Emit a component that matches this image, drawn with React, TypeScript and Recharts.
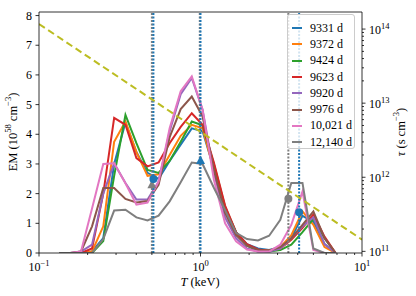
import React from "react";
import {
  ComposedChart,
  Line,
  Scatter,
  XAxis,
  YAxis,
  ReferenceLine,
} from "recharts";

// temperature grid (keV)
const T_KEV = [
  0.133, 0.156, 0.182, 0.213, 0.25, 0.292, 0.343, 0.401, 0.47, 0.55, 0.644, 0.754, 0.883,
  1.03, 1.21, 1.42, 1.66, 1.94, 2.27, 2.66, 3.12, 3.65, 4.28, 5.0, 5.86, 6.86,
];

// EM (10^58 cm^-3) per epoch
const EM_9331 = [0, 0, 0, 0.05, 0.5, 3.0, 4.4, 3.4, 2.7, 2.5, 3.1, 3.65, 4.2, 4.1, 2.85, 1.5, 0.7, 0.3, 0.15, 0.1, 0.2, 0.5, 1.25, 1.05, 0.3, 0];
const EM_9372 = [0, 0, 0, 0.05, 0.9, 3.75, 4.43, 3.4, 2.6, 2.65, 3.3, 3.95, 4.32, 4.2, 2.8, 1.4, 0.65, 0.25, 0.1, 0.08, 0.2, 0.6, 1.4, 0.95, 0.2, 0];
const EM_9424 = [0, 0, 0, 0, 0.4, 2.6, 4.65, 3.7, 2.8, 2.7, 3.1, 3.75, 4.43, 4.3, 3.0, 1.55, 0.7, 0.25, 0.08, 0.05, 0.1, 0.28, 0.7, 1.15, 0.5, 0];
const EM_9623 = [0, 0, 0, 0.15, 2.0, 4.55, 4.32, 3.2, 2.92, 3.05, 3.7, 4.25, 4.71, 4.32, 3.05, 1.6, 0.7, 0.3, 0.12, 0.08, 0.15, 0.45, 0.85, 1.3, 0.55, 0];
const EM_9920 = [0, 0, 0.05, 0.28, 2.0, 3.02, 2.36, 1.8, 1.8, 2.4, 4.1, 5.35, 5.9, 4.83, 2.7, 1.2, 0.5, 0.15, 0.05, 0.05, 0.15, 0.5, 0.9, 1.2, 0.3, 0];
const EM_9976 = [0, 0, 0.05, 0.9, 2.19, 2.19, 1.82, 1.7, 1.75, 2.3, 3.9, 4.85, 5.27, 4.6, 2.8, 1.35, 0.6, 0.25, 0.1, 0.08, 0.2, 0.5, 0.95, 1.4, 0.5, 0];
const EM_10021 = [0, 0, 0.05, 1.5, 3.0, 3.02, 2.35, 1.63, 1.7, 2.4, 4.2, 5.45, 5.95, 4.83, 2.47, 1.0, 0.39, 0.12, 0.05, 0.05, 0.28, 0.95, 2.07, 0.1, 0, 0];
const EM_12140 = [0, 0, 0, 0, 0.47, 1.43, 1.46, 1.2, 1.1, 1.26, 1.74, 2.38, 3.05, 3.0, 2.2, 1.45, 0.68, 0.47, 0.42, 0.58, 1.12, 2.36, 2.36, 0.15, 0, 0];

const SERIES = [
  { name: "9331 d", color: "#1f77b4", values: EM_9331 },
  { name: "9372 d", color: "#ff7f0e", values: EM_9372 },
  { name: "9424 d", color: "#2ca02c", values: EM_9424 },
  { name: "9623 d", color: "#d62728", values: EM_9623 },
  { name: "9920 d", color: "#9467bd", values: EM_9920 },
  { name: "9976 d", color: "#8c564b", values: EM_9976 },
  { name: "10,021 d", color: "#e377c2", values: EM_10021 },
  { name: "12,140 d", color: "#7f7f7f", values: EM_12140 },
];

// ionisation age line (right axis)
const TAU_T = [0.1, 10];
const TAU_VALUES = [1.17e14, 1.44e11];

// vertical markers
const GRAY_LINES = [0.5, 0.99, 3.5];
const BLUE_LINES = [0.511, 1.0, 4.08];
const BLUE_CIRCLES = [
  { t: 0.511, em: 2.49 },
  { t: 4.08, em: 1.37 },
];
const GRAY_CIRCLES = [{ t: 3.5, em: 1.83 }];
const BLUE_TRIANGLES = [{ t: 1.0, em: 3.12 }];
const GRAY_TRIANGLES = [{ t: 0.5, em: 2.3 }];

const X_TICKS = [0.1, 0.2, 0.3, 0.4, 0.5, 0.6, 0.7, 0.8, 0.9, 1, 2, 3, 4, 5, 6, 7, 8, 9, 10];
const EM_TICKS = [0, 1, 2, 3, 4, 5, 6, 7, 8];
const TAU_TICKS = [
  1e11, 2e11, 3e11, 4e11, 5e11, 6e11, 7e11, 8e11, 9e11,
  1e12, 2e12, 3e12, 4e12, 5e12, 6e12, 7e12, 8e12, 9e12,
  1e13, 2e13, 3e13, 4e13, 5e13, 6e13, 7e13, 8e13, 9e13, 1e14,
];

const rows = T_KEV.map((t, i) => {
  const row: Record<string, number> = { t };
  SERIES.forEach((s, j) => {
    row[`s${j}`] = s.values[i];
  });
  return row;
});
const tauRows = TAU_T.map((t, i) => ({ t, tau: TAU_VALUES[i] }));

const FONT = '"Liberation Serif", "DejaVu Serif", serif';
const PLOT_LEFT = 39;
const PLOT_RIGHT = 362;
const PLOT_BOTTOM = 253;

function decade(v: number) {
  const e = Math.log10(v);
  return Math.abs(e - Math.round(e)) < 1e-6 ? Math.round(e) : null;
}

function expText(e: number) {
  return e < 0 ? `\u2212${-e}` : `${e}`;
}

function XTick(props: any) {
  const { x, payload } = props;
  const e = decade(payload.value);
  const major = e !== null;
  return (
    <g>
      <line x1={x} x2={x} y1={PLOT_BOTTOM} y2={PLOT_BOTTOM + (major ? 3.5 : 2)} stroke="#000" strokeWidth={0.8} />
      {major && (
        <text x={x} y={PLOT_BOTTOM + 18} textAnchor="middle" fontFamily={FONT} fontSize={12} fill="#000">
          10
          <tspan dy={-5} fontSize={8.5}>
            {expText(e as number)}
          </tspan>
        </text>
      )}
    </g>
  );
}

function EmTick(props: any) {
  const { y, payload } = props;
  return (
    <g>
      <line x1={PLOT_LEFT - 3.5} x2={PLOT_LEFT} y1={y} y2={y} stroke="#000" strokeWidth={0.8} />
      <text x={PLOT_LEFT - 7} y={y + 4} textAnchor="end" fontFamily={FONT} fontSize={12} fill="#000">
        {payload.value}
      </text>
    </g>
  );
}

function TauTick(props: any) {
  const { y, payload } = props;
  const e = decade(payload.value);
  const major = e !== null;
  return (
    <g>
      <line x1={PLOT_RIGHT} x2={PLOT_RIGHT + (major ? 3.5 : 2)} y1={y} y2={y} stroke="#000" strokeWidth={0.8} />
      {major && (
        <text x={PLOT_RIGHT + 7} y={y + 5} textAnchor="start" fontFamily={FONT} fontSize={12} fill="#000">
          10
          <tspan dy={-5} fontSize={8.5}>
            {e}
          </tspan>
        </text>
      )}
    </g>
  );
}

function circleShape(color: string) {
  return (p: any) => <circle cx={p.cx} cy={p.cy} r={4} fill={color} />;
}

function triangleShape(color: string) {
  return (p: any) => (
    <polygon
      points={`${p.cx},${p.cy - 5} ${p.cx - 4.5},${p.cy + 3.5} ${p.cx + 4.5},${p.cy + 3.5}`}
      fill={color}
    />
  );
}

function ChartLegend() {
  return (
    <div
      style={{
        position: "absolute",
        left: 287,
        top: 14,
        width: 68,
        height: 135,
        border: "1px solid #cccccc",
        borderRadius: 3,
        background: "rgba(255,255,255,0.8)",
        fontFamily: FONT,
        fontSize: 12,
        boxSizing: "border-box",
        paddingTop: 5,
      }}
    >
      {SERIES.map((s) => (
        <div key={s.name} style={{ display: "flex", alignItems: "center", height: 16.3 }}>
          <span style={{ display: "inline-block", width: 10, height: 2, background: s.color, marginLeft: 4, marginRight: 8 }} />
          <span>{s.name}</span>
        </div>
      ))}
    </div>
  );
}

export default function App() {
  return (
    <div style={{ position: "absolute", left: 0, top: 0, width: 416, height: 296, background: "#fff" }}>
      <ComposedChart width={416} height={296} data={rows} margin={{ top: 12, right: 0, left: 0, bottom: 0 }}>
        <XAxis
          dataKey="t"
          type="number"
          scale="log"
          domain={[0.1, 10]}
          allowDataOverflow
          ticks={X_TICKS}
          interval={0}
          tick={<XTick />}
          tickLine={false}
          axisLine={{ stroke: "#000", strokeWidth: 0.8 }}
          height={43}
          label={{
            content: () => (
              <text x={200} y={286} textAnchor="middle" fontFamily={FONT} fontSize={12.5} fill="#000">
                <tspan fontStyle="italic">T</tspan> (keV)
              </text>
            ),
          }}
        />
        <YAxis
          yAxisId="em"
          type="number"
          domain={[0, 8.12]}
          allowDataOverflow
          ticks={EM_TICKS}
          interval={0}
          tick={<EmTick />}
          tickLine={false}
          axisLine={{ stroke: "#000", strokeWidth: 0.8 }}
          width={39}
          label={{
            content: () => (
              <text
                x={14}
                y={132}
                transform="rotate(-90 14 132)"
                textAnchor="middle"
                dominantBaseline="middle"
                fontFamily={FONT}
                fontSize={12.5}
                fill="#000"
              >
                EM (10
                <tspan dy={-5} fontSize={8.5}>58</tspan>
                <tspan dy={5}> cm</tspan>
                <tspan dy={-5} fontSize={8.5}>{"\u22123"}</tspan>
                <tspan dy={5}>)</tspan>
              </text>
            ),
          }}
        />
        <YAxis
          yAxisId="tau"
          orientation="right"
          type="number"
          scale="log"
          domain={[9.5e10, 1.7e14]}
          allowDataOverflow
          ticks={TAU_TICKS}
          interval={0}
          tick={<TauTick />}
          tickLine={false}
          axisLine={{ stroke: "#000", strokeWidth: 0.8 }}
          width={54}
          label={{
            content: () => (
              <text
                x={402}
                y={132}
                transform="rotate(-90 402 132)"
                textAnchor="middle"
                dominantBaseline="middle"
                fontFamily={FONT}
                fontSize={12.5}
                fill="#000"
              >
                <tspan fontStyle="italic">τ</tspan> (s cm
                <tspan dy={-5} fontSize={8.5}>{"\u22123"}</tspan>
                <tspan dy={5}>)</tspan>
              </text>
            ),
          }}
        />
        <ReferenceLine yAxisId="em" y={8.12} stroke="#000" strokeWidth={0.8} />

        {SERIES.map((s, j) => (
          <Line
            key={s.name}
            yAxisId="em"
            dataKey={`s${j}`}
            stroke={s.color}
            strokeWidth={2}
            dot={false}
            isAnimationActive={false}
          />
        ))}

        {GRAY_LINES.map((t) => (
          <ReferenceLine key={`g${t}`} yAxisId="em" x={t} stroke="#7f7f7f" strokeWidth={2} strokeDasharray="2 1.5" />
        ))}
        {BLUE_LINES.map((t) => (
          <ReferenceLine key={`b${t}`} yAxisId="em" x={t} stroke="#1f77b4" strokeWidth={2} strokeDasharray="2 1.5" />
        ))}

        <Line
          yAxisId="tau"
          data={tauRows}
          dataKey="tau"
          stroke="#bcbd22"
          strokeWidth={2}
          strokeDasharray="7 4"
          dot={false}
          isAnimationActive={false}
        />

        <Scatter yAxisId="em" data={GRAY_TRIANGLES} dataKey="em" shape={triangleShape("#7f7f7f")} isAnimationActive={false} />
        <Scatter yAxisId="em" data={BLUE_TRIANGLES} dataKey="em" shape={triangleShape("#1f77b4")} isAnimationActive={false} />
        <Scatter yAxisId="em" data={GRAY_CIRCLES} dataKey="em" shape={circleShape("#7f7f7f")} isAnimationActive={false} />
        <Scatter yAxisId="em" data={BLUE_CIRCLES} dataKey="em" shape={circleShape("#1f77b4")} isAnimationActive={false} />
      </ComposedChart>
      <ChartLegend />
    </div>
  );
}
